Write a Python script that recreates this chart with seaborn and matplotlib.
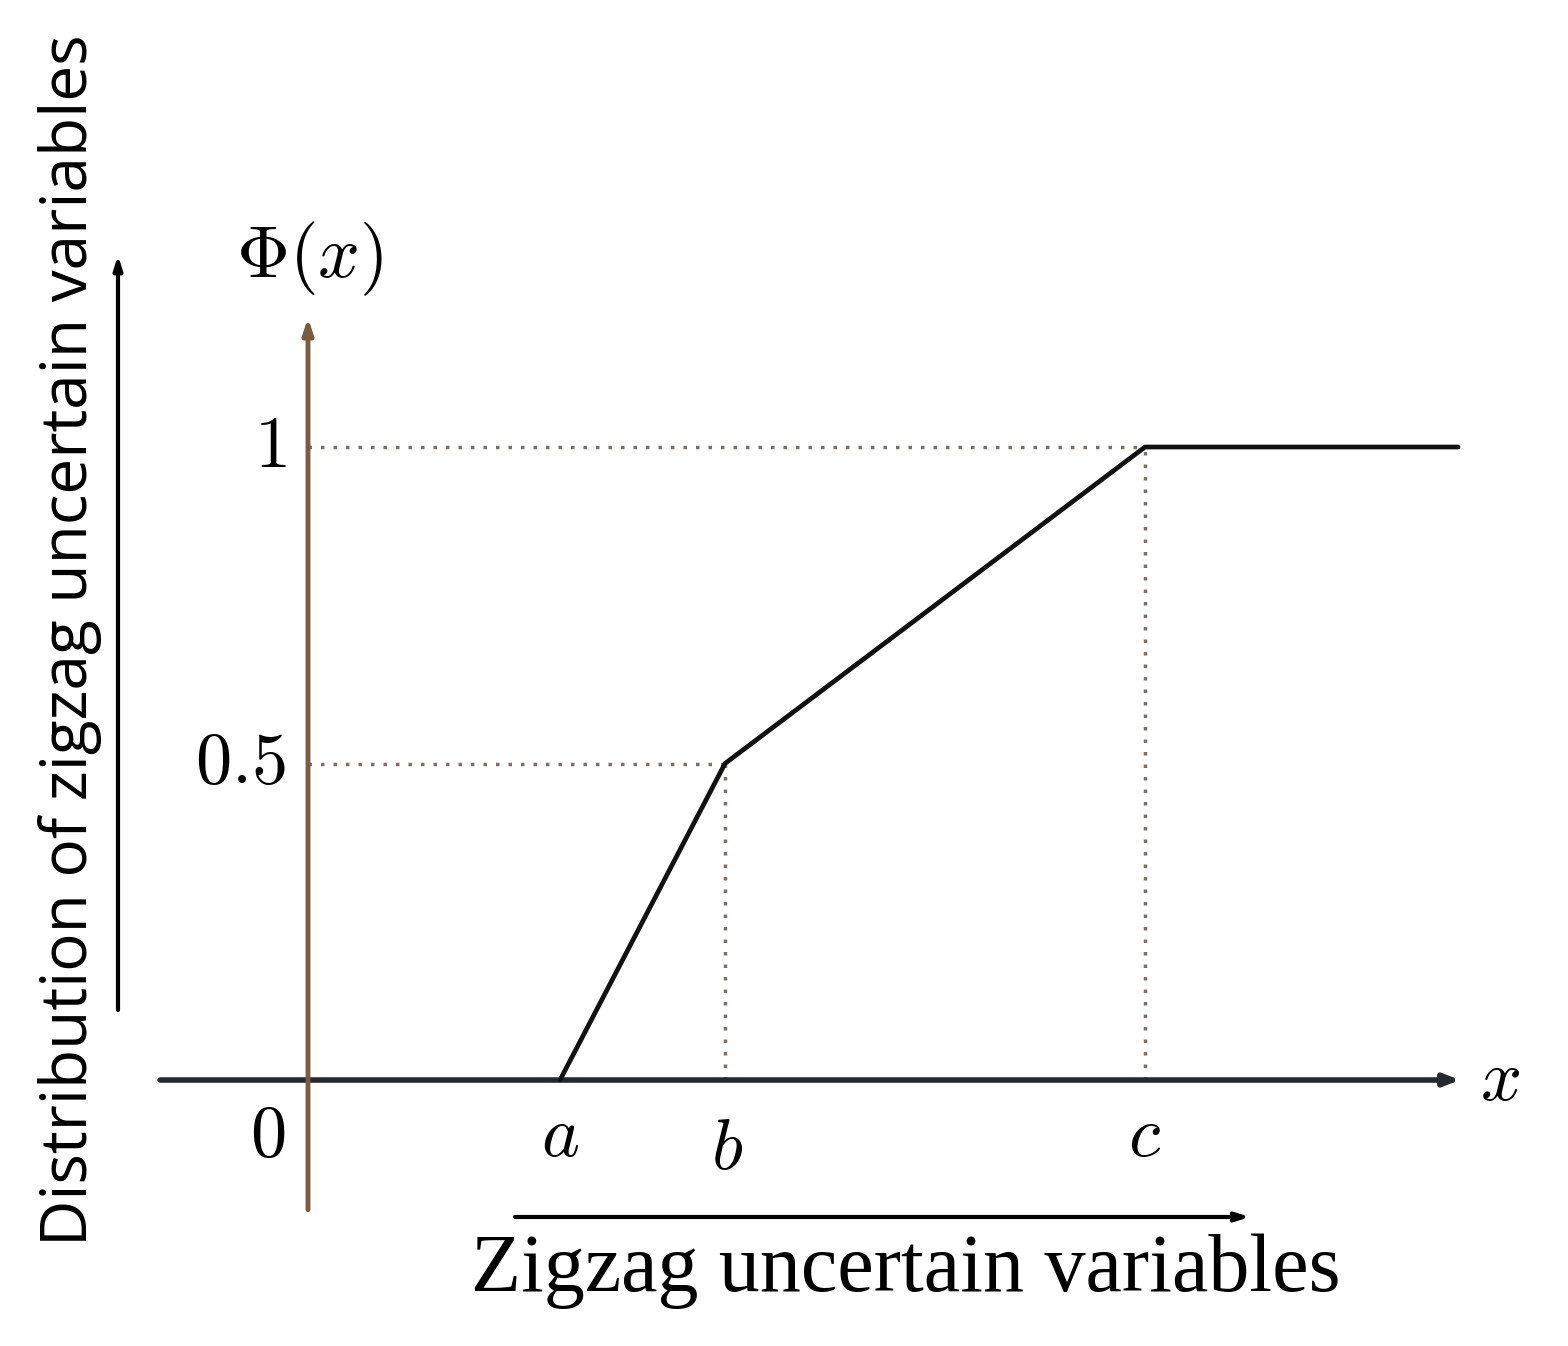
import matplotlib
matplotlib.use("Agg")
import matplotlib.pyplot as plt
import seaborn as sns
import pandas as pd

# ---- data ----
curve_x = [2.52, 4.17, 8.37, 11.5]
curve_y = [0.0, 0.5, 1.0, 1.0]
x_tick_pos = [0.0, 2.52, 4.17, 8.37]
x_tick_labels = [r"$0$", r"$a$", r"$b$", r"$c$"]
y_tick_pos = [1.0, 0.5]
y_tick_labels = [r"$1$", r"$0.5$"]
x_label = "Zigzag uncertain variables"
y_label = "Distribution of zigzag uncertain variables"

sns.set_style("white")
plt.rcParams["mathtext.fontset"] = "cm"
plt.rcParams["text.color"] = "black"

fig = plt.figure(figsize=(15.68, 13.46), dpi=100)
ax = fig.add_axes([0, 0, 1, 1])
ax.set_xlim(-3.08, 12.60)
ax.set_ylim(-0.4202, 1.7062)
ax.axis("off")

# dotted guide lines
guide = dict(color="#7d6f68", linestyle=(0, (1, 2.6)), linewidth=2.5, zorder=1)
ax.plot([0, curve_x[1]], [curve_y[1], curve_y[1]], **guide)
ax.plot([curve_x[1], curve_x[1]], [0, curve_y[1]], **guide)
ax.plot([0, curve_x[2]], [curve_y[2], curve_y[2]], **guide)
ax.plot([curve_x[2], curve_x[2]], [0, curve_y[2]], **guide)

# axes with arrows
ax.annotate("", xy=(11.52, 0), xytext=(-1.48, 0),
            arrowprops=dict(arrowstyle="-|>,head_length=0.9,head_width=0.35",
                            color="#262a2e", lw=4, shrinkA=0, shrinkB=0), zorder=2)
ax.annotate("", xy=(0, 1.204), xytext=(0, -0.205),
            arrowprops=dict(arrowstyle="-|>,head_length=0.9,head_width=0.3",
                            color="#7b5a3e", lw=3.5, shrinkA=0, shrinkB=0), zorder=2)

# curve
df = pd.DataFrame({"x": curve_x, "y": curve_y})
sns.lineplot(data=df, x="x", y="y", ax=ax, color="#111111", linewidth=3.4,
             sort=False, estimator=None, zorder=3)
ax.set_xlabel("")
ax.set_ylabel("")

# tick labels
offsets = {r"$0$": (-0.4, -0.09), r"$a$": (0, -0.09), r"$b$": (0.02, -0.11), r"$c$": (0, -0.09)}
for xp, lab in zip(x_tick_pos, x_tick_labels):
    dx, dy = offsets[lab]
    ax.text(xp + dx, dy, lab, fontsize=52, ha="center", va="center")
for yp, lab in zip(y_tick_pos, y_tick_labels):
    ax.text(-0.22, yp, lab, fontsize=52, ha="right", va="center")

ax.text(0.02, 1.297, r"$\Phi(x)$", fontsize=53, ha="center", va="center")
ax.text(11.92, 0, r"$x$", fontsize=52, ha="center", va="center")

# outer labels with arrows
ax.annotate("", xy=(9.42, -0.2164), xytext=(2.07, -0.2164),
            arrowprops=dict(arrowstyle="-|>,head_length=0.8,head_width=0.25",
                            color="black", lw=3, shrinkA=0, shrinkB=0))
ax.text(5.98, -0.302, x_label, fontsize=59, family="Liberation Serif",
        ha="center", va="center")

ax.annotate("", xy=(-1.90, 1.303), xytext=(-1.90, 0.1106),
            arrowprops=dict(arrowstyle="-|>,head_length=0.8,head_width=0.25",
                            color="black", lw=3, shrinkA=0, shrinkB=0))
ax.text(-2.38, 0.695, y_label, fontsize=46, family="Open Sans",
        rotation=90, ha="center", va="center")

fig.savefig("out.png", dpi=100)
